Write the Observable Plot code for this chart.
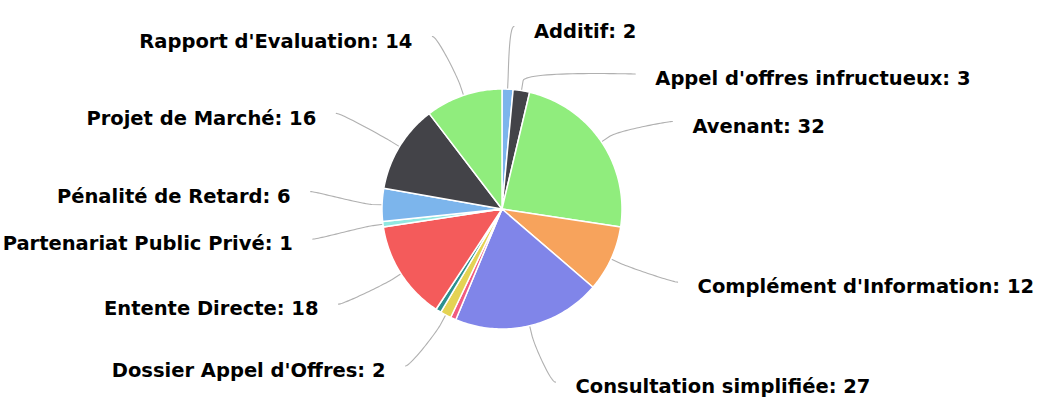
<!DOCTYPE html>
<html><head><meta charset="utf-8">
<script src="https://cdn.jsdelivr.net/npm/d3@7"></script>
<script src="https://cdn.jsdelivr.net/npm/@observablehq/plot@0.6"></script>
<style>html,body{margin:0;padding:0;background:#fff}</style>
</head><body><div id="chart"></div>
<script>
// Slice categories in drawing order (clockwise from 12 o'clock).
// Two thin slices have hidden labels in the reference (names unreadable) -> null.
const categories = ["Additif", "Appel d'offres infructueux", "Avenant", "Complément d'Information",
  "Consultation simplifiée", null, "Dossier Appel d'Offres", null, "Entente Directe",
  "Partenariat Public Privé", "Pénalité de Retard", "Projet de Marché", "Rapport d'Evaluation"];
const values = [2, 3, 32, 12, 27, 1, 2, 1, 18, 1, 6, 16, 14];
const colors = ["#7cb5ec", "#434348", "#90ed7d", "#f7a35c", "#8085e9", "#f15c80", "#e4d354",
  "#2b908f", "#f45b5b", "#91e8e1", "#7cb5ec", "#434348", "#90ed7d"];

const W = 1056, H = 417;
const cx = 501.5, cy = 208.5, R = 120, RL = 180;
const pt = (a, rr) => [cx + rr * Math.sin(a), cy - rr * Math.cos(a)];

const arcs = d3.pie().sort(null).value(d => d)(values);

// slice polygons
const slicePts = [];
arcs.forEach((a, i) => {
  slicePts.push({i, x: cx, y: cy, color: colors[i]});
  const n = Math.max(2, Math.ceil((a.endAngle - a.startAngle) / (Math.PI / 180)));
  for (let k = 0; k <= n; k++) {
    const t = a.startAngle + (a.endAngle - a.startAngle) * k / n;
    const [x, y] = pt(t, R);
    slicePts.push({i, x, y, color: colors[i]});
  }
});

// labels
const labels = [];
arcs.forEach((a, i) => {
  if (categories[i] == null) return;
  const mid = (a.startAngle + a.endAngle) / 2;
  const side = mid < Math.PI ? 1 : -1;
  labels.push({i, mid, side, t: cy - RL * Math.cos(mid), text: `${categories[i]}: ${values[i]}`});
});

function distribute(items, gap, lo, hi) {
  items.sort((a, b) => a.t - b.t);
  const clusters = items.map(it => ({items: [it]}));
  const place = c => {
    const n = c.items.length;
    let s = d3.mean(c.items, (it, k) => it.t - k * gap);
    s = Math.max(lo, Math.min(hi - (n - 1) * gap, s));
    c.start = s;
  };
  clusters.forEach(place);
  let merged = true;
  while (merged) {
    merged = false;
    for (let k = 1; k < clusters.length; k++) {
      const a = clusters[k - 1], b = clusters[k];
      if (a.start + a.items.length * gap > b.start + 1e-9) {
        a.items = a.items.concat(b.items);
        clusters.splice(k, 1);
        place(a);
        merged = true;
        break;
      }
    }
  }
  clusters.forEach(c => c.items.forEach((it, k) => it.y = c.start + k * gap));
}
distribute(labels.filter(d => d.side > 0), 47.5, 28, 384);
distribute(labels.filter(d => d.side < 0), 47.5, 28, 384);

const circleX = (y, side) => cx + side * Math.sqrt(Math.max(0, RL * RL - (y - cy) * (y - cy)));

const connPts = [];
labels.forEach(d => {
  const bx = circleX(d.y, d.side);
  d.tx = bx + d.side * 32;
  d.ty = d.y + 3;
  const p0 = [bx + d.side * 12, d.y - 2];
  const c1 = [p0[0] - d.side * 5, p0[1]];
  const c2 = pt(d.mid, R + 20);
  const p3 = pt(d.mid, R + 10);
  const touch = pt(d.mid, R);
  const steps = 30;
  for (let k = 0; k <= steps; k++) {
    const t = k / steps, u = 1 - t;
    const x = u*u*u*p0[0] + 3*u*u*t*c1[0] + 3*u*t*t*c2[0] + t*t*t*p3[0];
    const y = u*u*u*p0[1] + 3*u*u*t*c1[1] + 3*u*t*t*c2[1] + t*t*t*p3[1];
    connPts.push({i: d.i, x, y});
  }
  connPts.push({i: d.i, x: touch[0], y: touch[1]});
});

const textStyle = {
  x: "tx", y: "ty", text: "text",
  fontFamily: "DejaVu Sans", fontSize: 19.5, fontWeight: "bold",
  fill: "#000", stroke: "white", strokeWidth: 2
};

const chart = Plot.plot({
  width: W, height: H, margin: 0,
  style: {background: "#fff"},
  x: {domain: [0, W], range: [0, W], axis: null},
  y: {domain: [0, H], range: [0, H], axis: null},
  color: {type: "identity"},
  marks: [
    Plot.line(connPts, {x: "x", y: "y", z: "i", stroke: "#b0b0b0", strokeWidth: 1.1}),
    Plot.line(slicePts, {x: "x", y: "y", z: "i", fill: "color", stroke: "white", strokeWidth: 1.5, curve: "linear-closed"}),
    Plot.text(labels.filter(d => d.side > 0), {...textStyle, textAnchor: "start"}),
    Plot.text(labels.filter(d => d.side < 0), {...textStyle, textAnchor: "end"})
  ]
});
document.getElementById("chart").appendChild(chart);
</script>
</body></html>
